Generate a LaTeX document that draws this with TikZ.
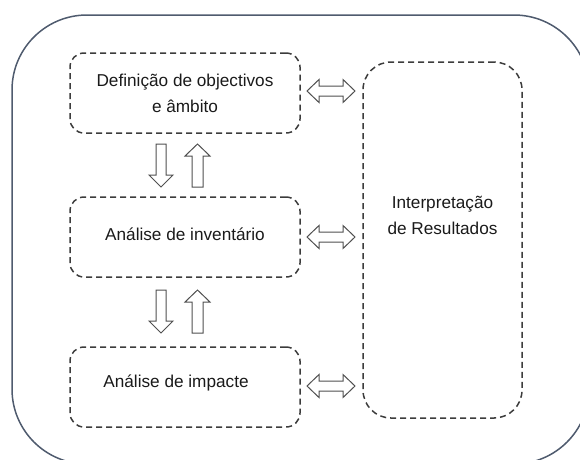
\documentclass[tikz,border=0pt]{standalone}
\usepackage{fontspec}
\setmainfont{Liberation Sans}
\definecolor{outerc}{HTML}{4F5B6E}
\definecolor{dashc}{HTML}{3C3C3C}
\definecolor{arrc}{HTML}{505050}
\definecolor{txtc}{HTML}{1A1A1A}
\begin{document}
\begin{tikzpicture}[x=1pt,y=-1pt,
  stagebox/.style={draw=dashc, line width=1.5pt, dash pattern=on 6pt off 4pt, rounded corners=14pt, minimum width=230pt, minimum height=80pt, inner sep=0pt},
  bigbox/.style={draw=dashc, line width=1.5pt, dash pattern=on 6pt off 4pt, rounded corners=28pt, minimum width=159pt, minimum height=356pt, inner sep=0pt},
  lbl/.style={text=txtc, align=center, font=\fontsize{17.2}{26}\selectfont, inner sep=0pt},
  blk/.style={draw=arrc, fill=white, line width=1pt, line join=miter}
]
\useasboundingbox (0,0) rectangle (580,459);
\begin{scope}
\clip (0,0) rectangle (580,459);
\draw[outerc, line width=1.5pt, rounded corners=75pt] (12,15) rectangle (589,464);
\end{scope}

\node[stagebox] (def) at (185,93) {};
\node[stagebox] (inv) at (185,237) {};
\node[stagebox] (imp) at (185,387) {};
\node[bigbox] (interp) at (442.5,240) {};

\node[lbl] (tdef) at (def.center) {Definição de objectivos\\e âmbito};
\node[lbl] (tinv) at ([yshift=3pt]inv.center) {Análise de inventário};
\node[lbl] (timp) at ([xshift=-9pt,yshift=4pt]imp.center) {Análise de impacte};
\node[lbl] (tint) at ([yshift=25pt]interp.center) {Interpretação\\de Resultados};

% horizontal double arrows
\foreach \cy in {91,237,386}{
  \draw[blk, shift={(331,\cy)}] (-24,0) -- (-12,-11.5) -- (-12,-5) -- (12,-5) -- (12,-11.5) -- (24,0) -- (12,11.5) -- (12,5) -- (-12,5) -- (-12,11.5) -- cycle;
}
% vertical arrows
\foreach \cy in {165.5,311.5}{
  \draw[blk, shift={(161,\cy)}] (-5,-21.5) -- (5,-21.5) -- (5,9.5) -- (12,9.5) -- (0,21.5) -- (-12,9.5) -- (-5,9.5) -- cycle;
  \draw[blk, shift={(197.5,\cy)}] (-5.5,21.5) -- (5.5,21.5) -- (5.5,-9.5) -- (12.5,-9.5) -- (0,-21.5) -- (-12.5,-9.5) -- (-5.5,-9.5) -- cycle;
}
\end{tikzpicture}
\end{document}
